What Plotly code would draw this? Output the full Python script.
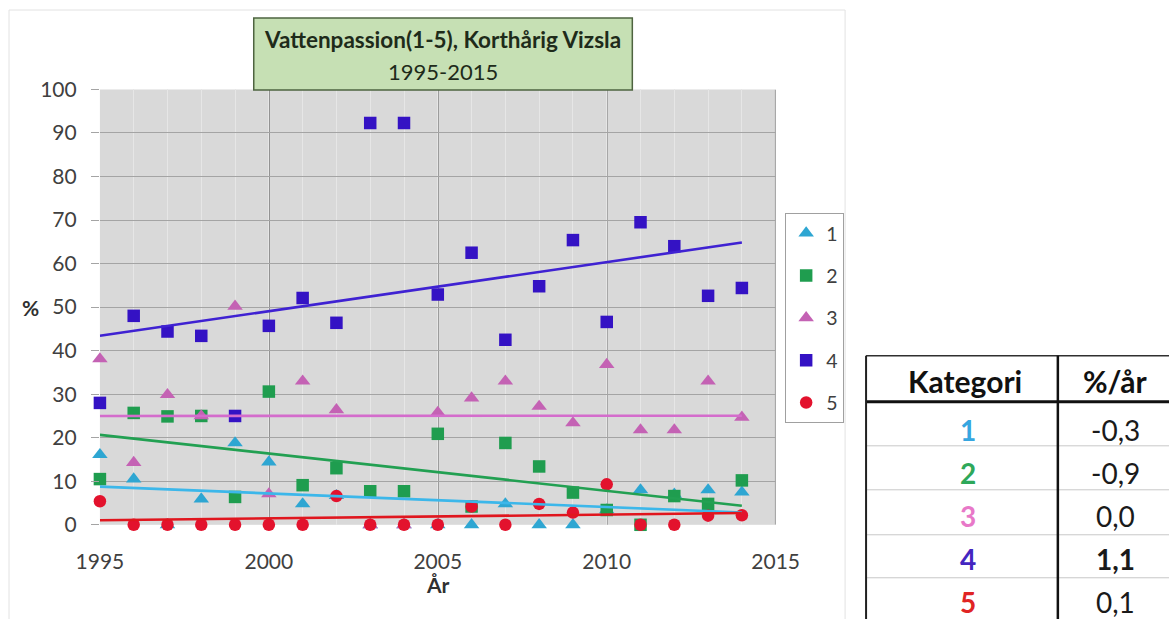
import numpy as np
import plotly.graph_objects as go

W, H = 1169, 619

# ---------------- data ----------------
years = list(range(1995, 2015))
cat1 = [16.1, 10.5, 0, 5.9, 18.8, 14.4, 4.8, 6.7, 0, 0, 0, 0, 4.8, 0, 0, 3.4, 8.0, 7.0, 8.0, 7.5]
cat2 = [10.5, 25.7, 24.9, 25.0, 6.4, 30.6, 9.1, 13.0, 7.7, 7.7, 20.9, 4.2, 18.8, 13.4, 7.4, 3.4, 0, 6.6, 4.8, 10.2]
cat3 = [38.1, 14.3, 29.9, 25.0, 50.2, 7.1, 33.0, 26.4, 0, 0, 25.8, 29.1, 33.0, 27.2, 23.4, 36.8, 21.8, 21.8, 33.0, 24.7]
cat4 = [28.0, 48.0, 44.4, 43.4, 25.0, 45.7, 52.1, 46.4, 92.3, 92.3, 52.9, 62.5, 42.5, 54.8, 65.4, 46.6, 69.5, 64.0, 52.6, 54.4]
cat5 = [5.4, 0, 0, 0, 0, 0, 0, 6.6, 0, 0, 0, 4.2, 0, 4.8, 2.8, 9.3, 0, 0, 2.1, 2.2]

series_names = ["1", "2", "3", "4", "5"]
series_values = [cat1, cat2, cat3, cat4, cat5]

x_ticks = [1995, 2000, 2005, 2010, 2015]
y_ticks = list(range(0, 101, 10))
major_years = [2000, 2005, 2010]

title_line1 = "Vattenpassion(1-5), Korthårig Vizsla"
title_line2 = "1995-2015"
x_label = "År"
y_label = "%"

table_header = ["Kategori", "%/år"]
table_categories = ["1", "2", "3", "4", "5"]
table_rates = ["-0,3", "-0,9", "0,0", "1,1", "0,1"]
table_bold = [False, False, False, True, False]

# ---------------- styles ----------------
marker_symbols = ["triangle-up", "square", "triangle-up", "square", "circle"]
marker_sizes = [13.5, 12.5, 13.5, 12.5, 12.5]
marker_colors = ["#2ea6d2", "#1f9d4f", "#c462b4", "#3412c4", "#e3122d"]
trend_colors = ["#3cb7ea", "#22a052", "#d46ccc", "#3f22d2", "#e0161e"]
table_cat_colors = ["#36a6e0", "#2ea85a", "#e878c8", "#4426c0", "#e02424"]

FONT = "Lato, 'Open Sans', sans-serif"

# The photographed page is shrunk slightly about its centre; positions below are
# given in target-picture pixels and converted to layout pixels.
S, OX, OY = 0.96, 23.0, 14.0


def lx(p):
    return (p - OX) / S


def ly(p):
    return (p - OY) / S


def px(p):
    return lx(p) / W


def py(p):
    return 1 - ly(p) / H


fig = go.Figure()

for name, vals, sym, size, col in zip(series_names, series_values, marker_symbols, marker_sizes, marker_colors):
    fig.add_trace(go.Scatter(
        x=years, y=vals, mode="markers", name=name, legendgroup=name,
        marker=dict(symbol=sym, size=size, color=col, line=dict(width=0)),
        cliponaxis=False,
    ))

for name, vals, col in zip(series_names, series_values, trend_colors):
    slope, intercept = np.polyfit(years, vals, 1)
    xs = [years[0], years[-1]]
    fig.add_trace(go.Scatter(
        x=xs, y=[slope * x + intercept for x in xs], mode="lines",
        line=dict(color=col, width=2.6), showlegend=False, hoverinfo="skip",
        legendgroup=name, cliponaxis=False,
    ))

shapes = []
# faint chart-area border
shapes.append(dict(type="rect", xref="paper", yref="paper", x0=px(8), x1=px(845), y0=py(640), y1=py(10),
                   line=dict(color="#e2e2e2", width=1), layer="below"))
# major vertical gridlines
for yr in major_years:
    shapes.append(dict(type="line", xref="x", yref="y", x0=yr, x1=yr, y0=-1.5, y1=100,
                       line=dict(color="#404040", width=1.2), layer="below"))
# right border of plot area
shapes.append(dict(type="line", xref="x", yref="y", x0=2015, x1=2015, y0=0, y1=100,
                   line=dict(color="#8a8a8a", width=1.5), layer="below"))
# title box
shapes.append(dict(type="rect", xref="paper", yref="paper", x0=px(253), x1=px(632), y0=py(90), y1=py(18),
                   fillcolor="#c6e0b4", line=dict(color="#4e6440", width=1.5), layer="above"))

# table lines
tl, tdiv, tr = 866, 1058, 1200
t_top, t_head, t_bot = 356, 402, 640
row_lines = [446, 490, 535, 578]
shapes.append(dict(type="line", xref="paper", yref="paper", x0=px(tl), x1=px(tr), y0=py(t_top), y1=py(t_top),
                   line=dict(color="#303030", width=1.5), layer="above"))
shapes.append(dict(type="line", xref="paper", yref="paper", x0=px(tl), x1=px(tr), y0=py(t_head), y1=py(t_head),
                   line=dict(color="#111111", width=3), layer="above"))
for yl in row_lines:
    shapes.append(dict(type="line", xref="paper", yref="paper", x0=px(tl), x1=px(tr), y0=py(yl), y1=py(yl),
                       line=dict(color="#c8c8c8", width=1), layer="above"))
shapes.append(dict(type="line", xref="paper", yref="paper", x0=px(tl), x1=px(tl), y0=py(t_top), y1=py(t_bot),
                   line=dict(color="#202020", width=2), layer="above"))
shapes.append(dict(type="line", xref="paper", yref="paper", x0=px(tdiv), x1=px(tdiv), y0=py(t_top), y1=py(t_bot),
                   line=dict(color="#111111", width=2.5), layer="above"))

annotations = []


def add_text(x, y, text, size, color, bold=False):
    annotations.append(dict(xref="paper", yref="paper", x=px(x), y=py(y),
                            text=("<b>" + text + "</b>") if bold else text,
                            showarrow=False, font=dict(family=FONT, size=size, color=color),
                            xanchor="center", yanchor="middle"))


add_text(442, 40, title_line1, 22.5, "#1e2b1a", bold=True)
add_text(442, 72, title_line2, 22, "#1e2b1a")
add_text(30, 308, y_label, 21, "#303030", bold=True)
add_text(437, 585, x_label, 21, "#303030", bold=True)

# table text
col1_x, col2_x = 965, 1116
add_text(col1_x, 381, table_header[0], 30, "#111111", bold=True)
add_text(col2_x, 381, table_header[1], 30, "#111111", bold=True)
row_centers = [430, 473, 516, 559, 602]
for yc, cat, rate, col, bold in zip(row_centers, table_categories, table_rates, table_cat_colors, table_bold):
    add_text(col1_x + 3, yc, cat, 28, col, bold=True)
    add_text(col2_x, yc, rate, 28, "#1a1a1a", bold=bold)

fig.update_layout(
    autosize=True,
    margin=dict(l=0, r=0, t=0, b=0, pad=0),
    paper_bgcolor="white", plot_bgcolor="#d9d9d9",
    font=dict(family=FONT, size=21, color="#404040"),
    xaxis=dict(
        domain=[px(99), px(775.5)], range=[1995, 2015], tickvals=x_ticks,
        showgrid=False, zeroline=False, showline=False,
        ticks="outside", ticklen=18, tickcolor="rgba(0,0,0,0)",
        tickfont=dict(family=FONT, size=21, color="#404040"),
        minor=dict(dtick=1, tick0=1995, showgrid=True, gridcolor="#e6e6e6", gridwidth=1, ticks=""),
        fixedrange=True,
    ),
    yaxis=dict(
        domain=[py(525), py(89.5)], range=[0, 100], tickvals=y_ticks,
        showgrid=True, gridcolor="#a4a4a4", gridwidth=1, zeroline=False, showline=False,
        ticks="outside", ticklen=8, tickcolor="#a4a4a4", ticklabelstandoff=10,
        tickfont=dict(family=FONT, size=21, color="#404040"),
        fixedrange=True,
    ),
    legend=dict(
        x=px(785), y=py(213), xanchor="left", yanchor="top",
        bgcolor="white", bordercolor="#a0a0a0", borderwidth=1,
        font=dict(family=FONT, size=19.5, color="#404040"),
        traceorder="grouped", tracegroupgap=14,
    ),
    showlegend=True,
    shapes=shapes,
    annotations=annotations,
)

fig.write_html(
    "out.html",
    default_width="100vw",
    default_height="100vh",
    config={"responsive": True, "displayModeBar": False},
    post_script="document.body.style.margin='0';document.body.style.overflow='hidden';"
                "document.documentElement.style.overflow='hidden';window.dispatchEvent(new Event('resize'));",
)
